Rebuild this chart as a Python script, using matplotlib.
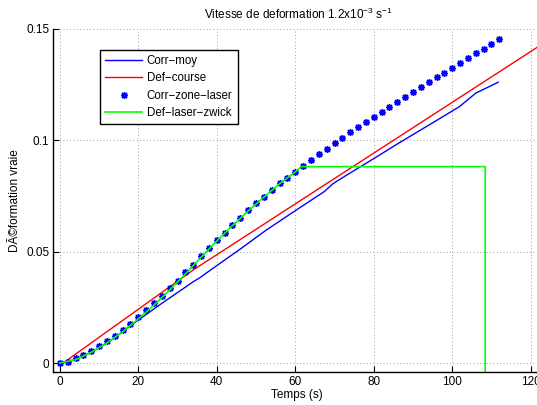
import matplotlib
matplotlib.use("Agg")
import matplotlib.pyplot as plt

plt.rcParams['font.family'] = ['Liberation Sans', 'DejaVu Sans']
plt.rcParams['mathtext.fontset'] = 'custom'
plt.rcParams['mathtext.rm'] = 'Liberation Sans'
plt.rcParams['mathtext.it'] = 'Liberation Sans'

# ---- data ----
star_t = list(range(0, 113, 2))
star_def = [0.0, 0.0003, 0.0021, 0.0036, 0.0054, 0.0075, 0.0097, 0.0121, 0.0148, 0.0175,
            0.0205, 0.0237, 0.0268, 0.0302, 0.0335, 0.0370, 0.0407, 0.0442, 0.0479, 0.0515,
            0.0551, 0.0584, 0.0619, 0.0653, 0.0686, 0.0717, 0.0747, 0.0777, 0.0807, 0.0832,
            0.0859, 0.0886, 0.0912, 0.0938, 0.0963, 0.0987, 0.1011, 0.1036, 0.1059, 0.1083,
            0.1104, 0.1126, 0.1150, 0.1172, 0.1195, 0.1217, 0.1240, 0.1262, 0.1283, 0.1304,
            0.1327, 0.1346, 0.1368, 0.1391, 0.1412, 0.1434, 0.1457]

moy_t = [0, 4, 8, 12, 16, 18, 26, 34, 35.6, 38.2, 46, 52.6, 60, 67.4, 69.5, 72, 80,
         86.5, 94, 101.8, 106, 111.7]
moy_def = [0, 0.0015, 0.0048, 0.009, 0.014, 0.0168, 0.0268, 0.0365, 0.0382, 0.0415,
           0.0512, 0.0597, 0.0684, 0.0770, 0.0804, 0.0832, 0.0918, 0.0989, 0.1068,
           0.1151, 0.1212, 0.1261]

course_t = [0.85, 34, 125]
course_def = [0.0, 0.0418, 0.1456]

zwick_t = [0, 4, 8, 12, 16, 20, 24, 28, 32, 36, 40, 44, 48, 52, 56, 60, 61.5, 108.4, 108.4]
zwick_def = [0, 0.0015, 0.0048, 0.009, 0.014, 0.0198, 0.026, 0.0328, 0.0400, 0.0475,
             0.0548, 0.0617, 0.0683, 0.0745, 0.0805, 0.0858, 0.0882, 0.0882, -0.02]

labels = ['Corr\u2212moy', 'Def\u2212course', 'Corr\u2212zone\u2212laser', 'Def\u2212laser\u2212zwick']
xticks = [0, 20, 40, 60, 80, 100, 120]
yticks = [0, 0.05, 0.1, 0.15]
ytick_labels = ['0', '0.05', '0.1', '0.15']

# ---- figure ----
W, H = 537, 405
fig = plt.figure(figsize=(W / 100, H / 100), dpi=100)
left, right, top, bottom = 53.3, 537, 29, 371.7
ax = fig.add_axes([left / W, (H - bottom) / H, (right - left) / W, (bottom - top) / H])

ax.plot(moy_t, moy_def, color=(0, 0, 1), lw=1.0, label=labels[0])
ax.plot(course_t, course_def, color=(1, 0, 0), lw=1.0, label=labels[1])
ax.plot(star_t, star_def, linestyle='none', marker=(8, 2, 0), markersize=5,
        markeredgewidth=1.0, color=(0, 0, 1), label=labels[2])
ax.plot(zwick_t, zwick_def, color=(0, 1, 0), lw=1.2, label=labels[3])

ax.set_xlim(-1.66, 121.6)
ax.set_ylim(-0.0039, 0.15)
ax.set_xticks(xticks)
ax.set_yticks(yticks)
ax.set_yticklabels(ytick_labels)
ax.tick_params(direction='in', length=4, width=0.8, labelsize=8.5, pad=3)
for s in ['top', 'right']:
    ax.spines[s].set_visible(False)
for s in ['left', 'bottom']:
    ax.spines[s].set_linewidth(1.0)
ax.grid(True, linestyle=(0, (1, 3)), color=(0.5, 0.5, 0.5), linewidth=0.6)
ax.set_axisbelow(True)

ax.set_xlabel('Temps (s)', fontsize=8.5)
ax.xaxis.set_label_coords((297 - left) / (right - left), -(389 - bottom) / (bottom - top))
ax.set_ylabel('DÃ©formation vraie', fontsize=8.5)
ax.yaxis.set_label_coords(-(left - 21) / (right - left), 0.5)

fig.text(298 / W, 1 - 14 / H, 'Vitesse de deformation 1.2x10$^{\u22123}$ s$^{\u22121}$',
         ha='center', va='center', fontsize=8.5)

leg = ax.legend(loc='upper left', bbox_to_anchor=(100 / W, 1 - 50 / H),
                bbox_transform=fig.transFigure, fontsize=8.3, handlelength=3.2,
                handletextpad=0.4, borderpad=0.45, labelspacing=0.45,
                fancybox=False, framealpha=1, edgecolor='black', borderaxespad=0)
leg.get_frame().set_linewidth(1.0)

fig.savefig('out.png', dpi=100)
